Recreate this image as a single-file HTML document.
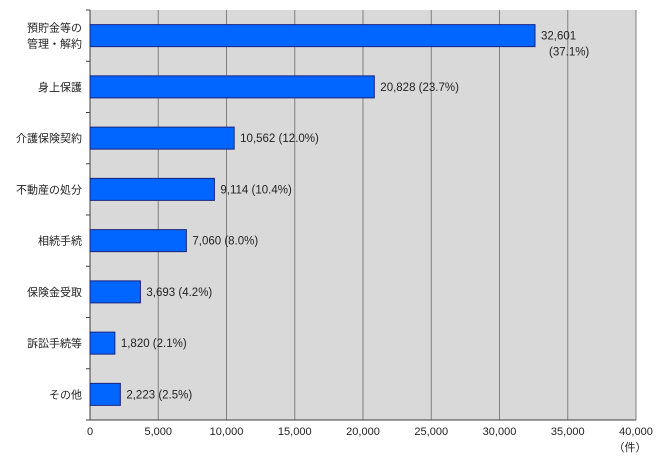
<!DOCTYPE html>
<html><head><meta charset="utf-8"><style>
body{margin:0;background:#fff;width:666px;height:463px;overflow:hidden}
text{font-family:"Liberation Sans","Noto Sans CJK JP",sans-serif;fill:#222}
</style></head><body>
<svg id="chart" width="666" height="463" xmlns="http://www.w3.org/2000/svg"></svg>
<script>
const categories=[["預貯金等の","管理・解約"],["身上保護"],["介護保険契約"],["不動産の処分"],["相続手続"],["保険金受取"],["訴訟手続等"],["その他"]];
const values=[32601,20828,10562,9114,7060,3693,1820,2223];
const percents=["37.1%","23.7%","12.0%","10.4%","8.0%","4.2%","2.1%","2.5%"];
const ticks=[0,5000,10000,15000,20000,25000,30000,35000,40000];
const X0=90,X1=636,Y0=10,Y1=420,MAX=40000;
const svg=document.getElementById('chart');
const NS="http://www.w3.org/2000/svg";
const x=v=>X0+(X1-X0)*v/MAX;
const band=(Y1-Y0)/categories.length;
const yc=i=>Y0+band*(i+0.5);
function mk(t,a,p){const e=document.createElementNS(NS,t);for(const k in a)e.setAttribute(k,a[k]);(p||svg).appendChild(e);return e;}
const bg=mk('rect',{x:X0,y:Y0,width:X1-X0,height:Y1-Y0,fill:'#d9d9d9'});


const fmt=v=>v.toLocaleString('en-US');
ticks.forEach(t=>{
  if(t>0){const g=mk('line',{x1:x(t),x2:x(t),y1:Y0,y2:Y1,stroke:'#808080','stroke-width':1});
  
  }
  const tl=mk('text',{x:x(t),y:Y1+15,'font-size':11,'text-anchor':'middle'});tl.textContent=fmt(t);
  
  
});
const unit=mk('text',{x:630,y:451,'font-size':11,'text-anchor':'middle'});unit.textContent='（件）';


mk('line',{x1:X0,x2:X1,y1:Y1,y2:Y1,stroke:'#404040'});
mk('line',{x1:X0,x2:X0,y1:Y0,y2:Y1,stroke:'#404040'});
for(let i=0;i<=categories.length;i++)mk('line',{x1:X0-4,x2:X0,y1:Y0+band*i,y2:Y0+band*i,stroke:'#404040'});
categories.forEach((c,i)=>{
  const cy=yc(i);
  const b=mk('rect',{x:X0,y:cy-11,width:x(values[i])-X0,height:22,fill:'#0066ff',stroke:'#1a237e','stroke-width':1});
  
  
  c.forEach((ln,j)=>{const t=mk('text',{x:X0-8,y:cy+4+(j-(c.length-1)/2)*16,'font-size':11,'text-anchor':'end'});t.textContent=ln;
    
    });
  const lx=x(values[i])+6;
  if(i===0){
    const a=mk('text',{x:lx,y:cy+4,'font-size':11.5});a.textContent=fmt(values[i]);
    
    
    const p=mk('text',{x:lx+8,y:cy+20,'font-size':11.5});p.textContent='('+percents[i]+')';
    
    
  }else{
    const a=mk('text',{x:lx,y:cy+4,'font-size':11.5});a.textContent=fmt(values[i])+'   ('+percents[i]+')';
    a.setAttribute('xml:space','preserve');
    
    
  }
});
</script>
</body></html>
